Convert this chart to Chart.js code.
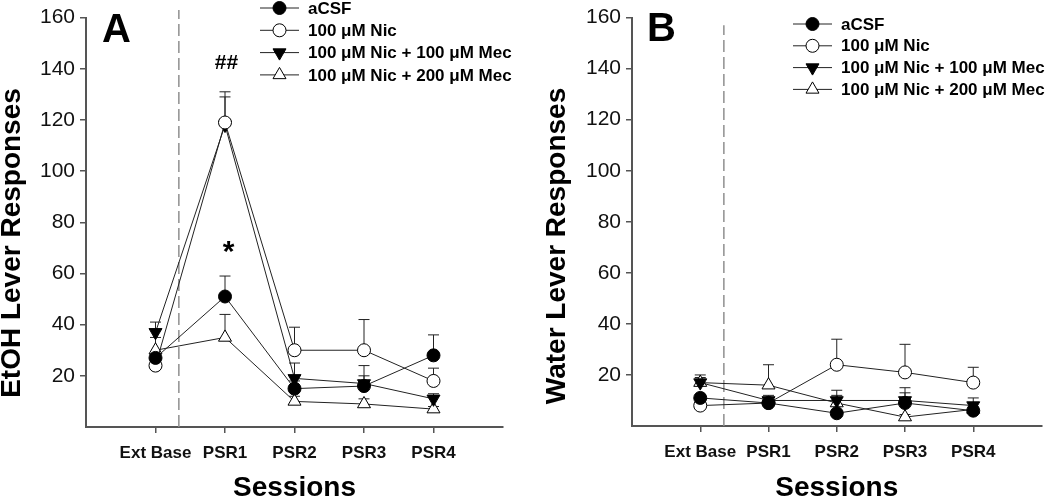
<!DOCTYPE html>
<html>
<head>
<meta charset="utf-8">
<script src="https://cdn.jsdelivr.net/npm/chart.js@4.4.1/dist/chart.umd.min.js"></script>
<style>
  body { margin: 0; background: #fff; }
  #wrap { position: relative; width: 1050px; height: 499px; }
  canvas { position: absolute; top: 0; }
  #chartA { left: 0; }
  #chartB { left: 525px; }
</style>
</head>
<body>
<div id="wrap">
  <canvas id="chartA" width="525" height="499"></canvas>
  <canvas id="chartB" width="525" height="499"></canvas>
</div>
<script>
// categories + legend names
const sessions = ["Ext Base", "PSR1", "PSR2", "PSR3", "PSR4"];
const groupNames = ["aCSF", "100 \u03bcM Nic", "100 \u03bcM Nic + 100 \u03bcM Mec", "100 \u03bcM Nic + 200 \u03bcM Mec"];
const yTickValues = [20, 40, 60, 80, 100, 120, 140, 160];

// panel A - EtOH lever (mean, SEM)
const etohAcsf = [27, 51, 15, 16, 28];
const etohAcsfErr = [2, 8, 3, 4, 8];
const etohNic = [24, 119, 30, 30, 18];
const etohNicErr = [2, 12, 9, 12, 5];
const etohMec100 = [37, 118, 19, 17, 11];
const etohMec100Err = [4, 11, 6, 7, 2];
const etohMec200 = [30, 35, 10, 9, 7];
const etohMec200Err = [5, 9, 2, 2, 1];

// panel B - water lever (mean, SEM)
const waterAcsf = [11, 9, 5, 9, 6];
const waterAcsfErr = [1, 1, 1, 6, 1];
const waterNic = [8, 9, 24, 21, 17];
const waterNicErr = [1, 2, 10, 11, 6];
const waterMec100 = [17, 10, 10, 10, 8];
const waterMec100Err = [2, 2, 4, 3, 3];
const waterMec200 = [17, 16, 9, 3.5, 6.5];
const waterMec200Err = [3, 8, 3, 1, 1];

// significance marks (panel A)
const marksA = [
  { text: "##", x: 1.02, y: 142 },
  { text: "*", x: 1.05, y: 68 }
];

const FONT = "'Liberation Sans', Arial, Helvetica, sans-serif";
const markerStyles = [
  { shape: "circle", fill: "#000", rot: 0, r: 6.5 },
  { shape: "circle", fill: "#fff", rot: 0, r: 6.5 },
  { shape: "triangle", fill: "#000", rot: 180, r: 7.5 },
  { shape: "triangle", fill: "#fff", rot: 0, r: 7.5 }
];

function drawMarker(ctx, st, x, y) {
  ctx.save();
  ctx.fillStyle = st.fill;
  ctx.strokeStyle = "#000";
  ctx.lineWidth = 1;
  ctx.beginPath();
  if (st.shape === "circle") {
    ctx.arc(x, y, st.r, 0, Math.PI * 2);
  } else {
    let rad = st.rot * Math.PI / 180;
    for (let k = 0; k < 3; k++) {
      const px = x + Math.sin(rad) * st.r;
      const py = y - Math.cos(rad) * st.r;
      if (k === 0) ctx.moveTo(px, py); else ctx.lineTo(px, py);
      rad += 2 * Math.PI / 3;
    }
    ctx.closePath();
  }
  ctx.fill();
  ctx.stroke();
  ctx.restore();
}

// error bars, dashed divider, texts
const backPlugin = {
  id: "backStuff",
  beforeDatasetsDraw(chart) {
    const ctx = chart.ctx;
    const xs = chart.scales.x, ys = chart.scales.y;
    const o = chart.options.plugins.panel;
    // dashed vertical line
    ctx.save();
    ctx.strokeStyle = "#8f8f8f";
    ctx.lineWidth = 1.5;
    ctx.setLineDash([12, 5]);
    ctx.beginPath();
    const dx = xs.getPixelForValue(o.dashX);
    ctx.moveTo(dx, ys.getPixelForValue(0));
    ctx.lineTo(dx, ys.getPixelForValue(o.dashTop));
    ctx.stroke();
    ctx.restore();
    // error bars (upper only)
    ctx.save();
    ctx.strokeStyle = "#222";
    ctx.lineWidth = 1;
    chart.data.datasets.forEach((ds, i) => {
      const meta = chart.getDatasetMeta(i);
      ds.errors.forEach((e, j) => {
        const pt = meta.data[j];
        const top = ys.getPixelForValue(ds.data[j].y + e);
        ctx.beginPath();
        ctx.moveTo(pt.x, pt.y);
        ctx.lineTo(pt.x, top);
        ctx.moveTo(pt.x - 5.5, top);
        ctx.lineTo(pt.x + 5.5, top);
        ctx.stroke();
      });
    });
    ctx.restore();
  },
  afterDraw(chart) {
    const ctx = chart.ctx;
    const o = chart.options.plugins.panel;
    const xs = chart.scales.x, ys = chart.scales.y;
    ctx.save();
    ctx.fillStyle = "#000";
    // panel letter
    ctx.font = "bold 40px " + FONT;
    ctx.textAlign = "left";
    ctx.textBaseline = "alphabetic";
    ctx.fillText(o.letter, o.letterX, o.letterY);
    // y title
    ctx.save();
    ctx.translate(o.yTitleX, o.yTitleY);
    ctx.rotate(-Math.PI / 2);
    ctx.font = "bold 28px " + FONT;
    ctx.textAlign = "center";
    ctx.textBaseline = "middle";
    ctx.fillText(o.yTitle, 0, 0);
    ctx.restore();
    // x title
    ctx.font = "bold 28px " + FONT;
    ctx.textAlign = "center";
    ctx.textBaseline = "middle";
    ctx.fillText("Sessions", (chart.chartArea.left + chart.chartArea.right) / 2, o.xTitleY);
    // legend
    ctx.font = "bold 17px " + FONT;
    ctx.textAlign = "left";
    groupNames.forEach((name, i) => {
      const y = o.legendY + i * o.legendGap;
      ctx.strokeStyle = "#222";
      ctx.lineWidth = 1;
      ctx.beginPath();
      ctx.moveTo(o.legendX, y);
      ctx.lineTo(o.legendX + 39, y);
      ctx.stroke();
      drawMarker(ctx, markerStyles[i], o.legendX + 19.5, y);
      ctx.fillStyle = "#000";
      ctx.fillText(name, o.legendX + 48, y + 1);
    });
    // marks
    (o.marks || []).forEach(m => {
      ctx.font = m.text === "*" ? "bold 30px " + FONT : "bold 21px " + FONT;
      ctx.textAlign = "center";
      ctx.fillText(m.text, xs.getPixelForValue(m.x), ys.getPixelForValue(m.y));
    });
    ctx.restore();
  }
};

function makeDatasets(series, errs) {
  return series.map((vals, i) => {
    const st = markerStyles[i];
    return {
      label: groupNames[i],
      data: vals.map((v, j) => ({ x: j, y: v })),
      errors: errs[i],
      borderColor: "#222",
      borderWidth: 1,
      pointStyle: st.shape,
      pointRotation: st.rot,
      pointRadius: st.r,
      pointBackgroundColor: st.fill,
      pointBorderColor: "#000",
      pointBorderWidth: 1,
      tension: 0,
      clip: false
    };
  });
}

function makeChart(id, series, errs, panel, yWidth, xHeight, padRight) {
  return new Chart(document.getElementById(id), {
    type: "line",
    data: { datasets: makeDatasets(series, errs) },
    options: {
      responsive: false,
      animation: false,
      events: [],
      layout: { padding: { left: 0, top: 12, right: padRight, bottom: 0 } },
      plugins: { legend: { display: false }, tooltip: { enabled: false }, panel },
      scales: {
        x: {
          type: "linear",
          min: -1,
          max: 5,
          afterBuildTicks: s => { s.ticks = sessions.map((c, i) => ({ value: i })); },
          afterFit: s => { s.height = xHeight; },
          grid: { display: true, drawOnChartArea: false, tickLength: 6, color: "#555", lineWidth: 1.5 },
          border: { display: true, color: "#555", width: 2 },
          ticks: {
            callback: v => sessions[v],
            font: { family: FONT, size: 17, weight: "bold" },
            color: "#111",
            padding: 10,
            maxRotation: 0
          }
        },
        y: {
          min: 0,
          max: 160,
          afterBuildTicks: s => { s.ticks = yTickValues.map(v => ({ value: v })); },
          afterFit: s => { s.width = yWidth; },
          grid: { display: true, drawOnChartArea: false, tickLength: 6, color: "#555", lineWidth: 1.5 },
          border: { display: true, color: "#555", width: 2 },
          ticks: {
            font: { family: FONT, size: 21 },
            color: "#111",
            padding: 5
          }
        }
      }
    },
    plugins: [backPlugin]
  });
}

makeChart("chartA",
  [etohAcsf, etohNic, etohMec100, etohMec200],
  [etohAcsfErr, etohNicErr, etohMec100Err, etohMec200Err],
  {
    letter: "A", letterX: 102, letterY: 42,
    yTitle: "EtOH Lever Responses", yTitleX: 12, yTitleY: 243,
    xTitleY: 488,
    legendX: 260, legendY: 8, legendGap: 22.3,
    dashX: 0.336, dashTop: 163,
    marks: marksA
  },
  86, 72, 22);

makeChart("chartB",
  [waterAcsf, waterNic, waterMec100, waterMec200],
  [waterAcsfErr, waterNicErr, waterMec100Err, waterMec200Err],
  {
    letter: "B", letterX: 122, letterY: 41,
    yTitle: "Water Lever Responses", yTitleX: 32, yTitleY: 246,
    xTitleY: 488,
    legendX: 268, legendY: 24, legendGap: 21.8,
    dashX: 0.346, dashTop: 157,
    marks: []
  },
  107, 73, 1);
</script>
</body>
</html>
